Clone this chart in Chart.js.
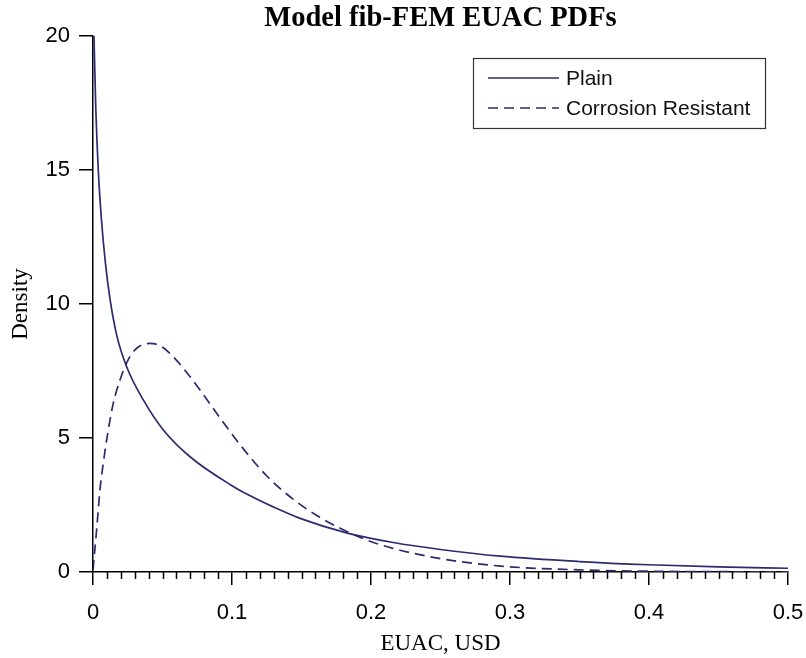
<!DOCTYPE html>
<html>
<head>
<meta charset="utf-8">
<script src="https://cdn.jsdelivr.net/npm/chart.js@4.4.1/dist/chart.umd.min.js"></script>
<style>
  html, body { margin: 0; padding: 0; background: #fff; }
  #wrap { width: 806px; height: 658px; }
</style>
</head>
<body>
<div id="wrap"><canvas id="chart" width="806" height="658"></canvas></div>
<script>
// Values
const plainX = [0.0007, 0.002, 0.0038, 0.006, 0.009, 0.0122, 0.017, 0.0242, 0.0362, 0.0506, 0.0698, 0.1, 0.112, 0.13, 0.149, 0.183, 0.216, 0.25, 0.293, 0.35, 0.4, 0.45, 0.5];
const plainY = [20, 17.3, 15, 13.2, 11.5, 10.2, 8.85, 7.66, 6.42, 5.3, 4.3, 3.22, 2.87, 2.42, 2.0, 1.45, 1.1, 0.84, 0.59, 0.39, 0.27, 0.19, 0.14];

const corrX = [0, 0.0026, 0.005, 0.0074, 0.011, 0.0146, 0.0194, 0.0242, 0.03, 0.041, 0.0494, 0.0578, 0.0698, 0.077, 0.0914, 0.1058, 0.1247, 0.1439, 0.1607, 0.1775, 0.1966, 0.2158, 0.25, 0.293, 0.35, 0.4, 0.5];
const corrY = [0.07, 1.57, 3.06, 4.06, 5.3, 6.3, 7.16, 7.8, 8.28, 8.53, 8.41, 8.03, 7.29, 6.79, 5.75, 4.75, 3.6, 2.72, 2.12, 1.64, 1.2, 0.88, 0.5, 0.22, 0.08, 0.03, 0.003];

const xTicks = [0, 0.1, 0.2, 0.3, 0.4, 0.5];
const yTicks = [0, 5, 10, 15, 20];

const lineColor = '#2b2b6f';
const sansFont = "'Liberation Sans', Arial, sans-serif";
const serifFont = "'Liberation Serif', 'Times New Roman', serif";

function toPoints(xs, ys) {
  return xs.map((x, i) => ({x: x, y: ys[i]}));
}

// minor ticks on the x axis plus the boxed legend in the top right
const extras = {
  id: 'extras',
  afterDraw(chart) {
    const ctx = chart.ctx;
    const xs = chart.scales.x;
    const base = chart.chartArea.bottom;
    ctx.save();
    ctx.strokeStyle = '#000';
    ctx.lineWidth = 1.5;
    for (let i = 1; i < 50; i++) {
      if (i % 10 === 0) continue;
      const px = Math.round(xs.getPixelForValue(i / 100)) + 0.5;
      ctx.beginPath();
      ctx.moveTo(px, base);
      ctx.lineTo(px, base + 7);
      ctx.stroke();
    }

    // legend
    const lx = 473, ly = 58, lw = 292, lh = 70;
    ctx.fillStyle = '#fff';
    ctx.fillRect(lx, ly, lw, lh);
    ctx.strokeStyle = '#333';
    ctx.lineWidth = 1.2;
    ctx.setLineDash([]);
    ctx.strokeRect(lx + 0.5, ly + 0.5, lw, lh);
    ctx.font = '21px ' + sansFont;
    ctx.textBaseline = 'middle';
    ctx.textAlign = 'left';
    const rows = [78, 108];
    chart.data.datasets.forEach((ds, i) => {
      ctx.strokeStyle = ds.borderColor;
      ctx.lineWidth = ds.borderWidth;
      ctx.setLineDash(ds.borderDash || []);
      ctx.beginPath();
      ctx.moveTo(488, rows[i]);
      ctx.lineTo(559, rows[i]);
      ctx.stroke();
      ctx.setLineDash([]);
      ctx.fillStyle = '#111';
      ctx.fillText(ds.label, 566, rows[i] + 1);
    });
    ctx.restore();
  }
};

new Chart(document.getElementById('chart'), {
  type: 'line',
  data: {
    datasets: [{
      label: 'Plain',
      data: toPoints(plainX, plainY),
      borderColor: lineColor,
      borderWidth: 1.7,
      pointRadius: 0,
      cubicInterpolationMode: 'monotone'
    }, {
      label: 'Corrosion Resistant',
      data: toPoints(corrX, corrY),
      borderColor: lineColor,
      borderWidth: 1.7,
      borderDash: [10, 6],
      pointRadius: 0,
      cubicInterpolationMode: 'monotone'
    }]
  },
  options: {
    responsive: false,
    animation: false,
    layout: {padding: {left: 0, right: 18, top: 0, bottom: 0}},
    plugins: {
      legend: {display: false},
      tooltip: {enabled: false},
      title: {
        display: true,
        fullSize: false,
        text: 'Model fib-FEM EUAC PDFs',
        color: '#000',
        font: {family: serifFont, size: 28.5, weight: 'bold', lineHeight: 1.2},
        padding: {top: 1.8, bottom: 0}
      }
    },
    scales: {
      x: {
        type: 'linear',
        min: 0,
        max: 0.5,
        afterBuildTicks: scale => { scale.ticks = xTicks.map(v => ({value: v})); },
        afterFit: scale => {
          scale.height = 86;
          scale.paddingLeft = 0;
          scale.paddingRight = 0;
        },
        ticks: {
          color: '#000',
          font: {family: sansFont, size: 22},
          padding: 15,
          maxRotation: 0,
          callback: v => String(v)
        },
        grid: {drawOnChartArea: false, drawTicks: true, tickLength: 13, color: '#000', lineWidth: 1.5},
        border: {display: true, color: '#000', width: 1.5},
        title: {display: true, text: 'EUAC, USD', color: '#000', font: {family: serifFont, size: 23, lineHeight: 1.2}, padding: {top: 0, bottom: 0}}
      },
      y: {
        min: 0,
        max: 20,
        afterBuildTicks: scale => { scale.ticks = yTicks.map(v => ({value: v})); },
        afterFit: scale => { scale.width = 93; },
        ticks: {
          color: '#000',
          font: {family: sansFont, size: 22},
          padding: 9
        },
        grid: {drawOnChartArea: false, drawTicks: true, tickLength: 14, color: '#000', lineWidth: 1.5},
        border: {display: true, color: '#000', width: 1.5},
        title: {display: true, text: 'Density', color: '#000', font: {family: serifFont, size: 23, lineHeight: 1.2}, padding: {top: 7, bottom: 0}}
      }
    }
  },
  plugins: [extras]
});
</script>
</body>
</html>
